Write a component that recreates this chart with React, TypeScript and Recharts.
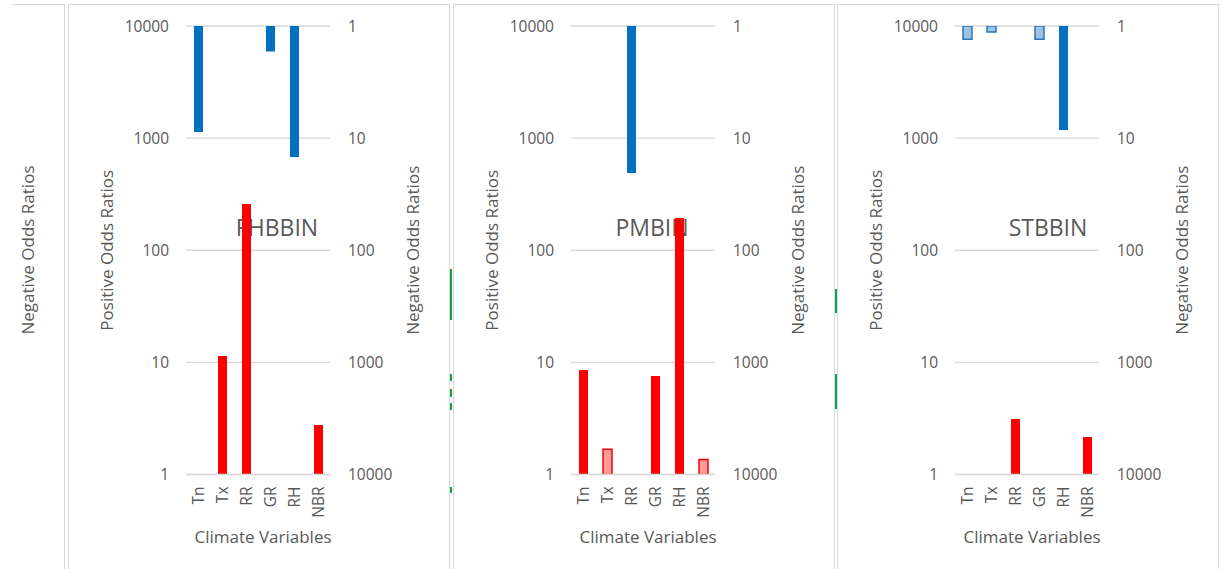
import { Bar, BarChart, CartesianGrid, Cell, Label, XAxis, YAxis } from "recharts"

const categories = ["Tn", "Tx", "RR", "GR", "RH", "NBR"]
const logTicks = [1, 10, 100, 1000, 10000]

// FHBBIN
const fhbPositive = [null, 11.4, 258, null, null, 2.77]
const fhbNegative = [8.8, null, null, 1.69, 14.7, null]
const fhbPosSig = [true, true, true, true, true, true]
const fhbNegSig = [true, true, true, true, true, true]

// PMBIN
const pmPositive = [8.55, 1.68, null, 7.57, 194, 1.36]
const pmNegative = [null, null, 20.5, null, null, null]
const pmPosSig = [true, false, true, true, true, false]
const pmNegSig = [true, true, true, true, true, true]

// STBBIN
const stbPositive = [null, null, 3.12, null, null, 2.16]
const stbNegative = [1.31, 1.13, null, 1.31, 8.47, null]
const stbPosSig = [true, true, true, true, true, true]
const stbNegSig = [false, false, true, false, true, true]

const RED = "#FF0000"
const RED_PALE = "#FF9C9C"
const BLUE = "#0070C0"
const BLUE_PALE = "#9DC3E6"
const TEXT = "#595959"
const GRID = "#D9D9D9"
const GREEN = "#12A14B"
const FONT = "'Open Sans', sans-serif"

function CategoryTick(props: any) {
  const { x, y, payload } = props
  const ty = y + 4
  return (
    <text x={x} y={ty} dy={5.5} transform={`rotate(-90 ${x} ${ty})`} textAnchor="end" fill={TEXT} fontSize={15.5}>
      {payload.value}
    </text>
  )
}

type PanelProps = {
  title: string
  positive: (number | null)[]
  negative: (number | null)[]
  posSig: boolean[]
  negSig: boolean[]
  left: number
  titleX: number
}

function OddsPanel({ title, positive, negative, posSig, negSig, left, titleX }: PanelProps) {
  const data = categories.map((cat, i) => ({ cat, pos: positive[i], neg: negative[i] }))
  return (
    <>
      <div style={{ position: "absolute", left, top: 4, width: 382, height: 600, border: `1px solid ${GRID}`, boxSizing: "border-box" }} />
      <div
        style={{
          position: "absolute", left: titleX - 100, top: 216, width: 200, textAlign: "center",
          fontSize: 23, lineHeight: "23px", color: TEXT,
        }}
      >
        {title}
      </div>
      <div style={{ position: "absolute", left, top: 0 }}>
        <BarChart width={381} height={569} data={data} margin={{ top: 26, right: 0, bottom: 24.5, left: 0 }}>
          <CartesianGrid xAxisId="pos" yAxisId="pos" vertical={false} stroke={GRID} strokeWidth={1.3} />
          <XAxis
            xAxisId="pos"
            dataKey="cat"
            height={70}
            interval={0}
            tickLine={false}
            axisLine={{ stroke: GRID, strokeWidth: 1.5 }}
            tick={<CategoryTick />}
          >
            <Label value="Climate Variables" position="insideBottom" offset={2} dx={5} fill={TEXT} fontSize={17} />
          </XAxis>
          <XAxis xAxisId="neg" dataKey="cat" height={0} hide />
          <YAxis
            yAxisId="pos"
            orientation="left"
            type="number"
            scale="log"
            domain={[1, 10000]}
            ticks={logTicks}
            allowDataOverflow
            width={118}
            axisLine={false}
            tickLine={false}
            tickMargin={11}
            tick={{ fill: TEXT, fontSize: 15.5 }}
          >
            <Label value="Positive Odds Ratios" angle={-90} position="insideLeft" offset={39} fill={TEXT} fontSize={17} style={{ textAnchor: "middle" }} />
          </YAxis>
          <YAxis
            yAxisId="neg"
            orientation="right"
            type="number"
            scale="log"
            domain={[1, 10000]}
            ticks={logTicks}
            reversed
            allowDataOverflow
            width={119}
            axisLine={false}
            tickLine={false}
            tickMargin={12}
            tick={{ fill: TEXT, fontSize: 15.5 }}
          >
            <Label value="Negative Odds Ratios" angle={-90} position="insideRight" offset={36} fill={TEXT} fontSize={17} style={{ textAnchor: "middle" }} />
          </YAxis>
          <Bar xAxisId="pos" yAxisId="pos" dataKey="pos" barSize={9} isAnimationActive={false}>
            {data.map((_, i) => (
              <Cell key={i} fill={posSig[i] ? RED : RED_PALE} stroke={posSig[i] ? "none" : RED} strokeWidth={1.5} />
            ))}
          </Bar>
          <Bar xAxisId="neg" yAxisId="neg" dataKey="neg" barSize={9} isAnimationActive={false}>
            {data.map((_, i) => (
              <Cell key={i} fill={negSig[i] ? BLUE : BLUE_PALE} stroke={negSig[i] ? "none" : "#2E75B6"} strokeWidth={1.5} />
            ))}
          </Bar>
        </BarChart>
      </div>
    </>
  )
}

const greenBits = [
  { x: 450, y: 269, h: 51 },
  { x: 450, y: 374, h: 7 },
  { x: 450, y: 389, h: 8 },
  { x: 450, y: 403, h: 7 },
  { x: 450, y: 487, h: 6 },
  { x: 834.5, y: 289, h: 24 },
  { x: 834.5, y: 374, h: 35 },
]

export default function App() {
  return (
    <div style={{ position: "absolute", left: 0, top: 0, width: 1222, height: 569, overflow: "hidden", background: "#fff", fontFamily: FONT }}>
      <div style={{ position: "absolute", left: 12, top: 4, width: 53, height: 600, borderTop: `1px solid ${GRID}`, borderRight: `1px solid ${GRID}`, boxSizing: "border-box" }} />
      <svg style={{ position: "absolute", left: 0, top: 0 }} width={60} height={569}>
        <text x={28} y={250} dy={6} transform="rotate(-90 28 250)" textAnchor="middle" fill={TEXT} fontSize={17}>
          Negative Odds Ratios
        </text>
      </svg>
      <OddsPanel title="FHBBIN" positive={fhbPositive} negative={fhbNegative} posSig={fhbPosSig} negSig={fhbNegSig} left={68} titleX={277} />
      <OddsPanel title="PMBIN" positive={pmPositive} negative={pmNegative} posSig={pmPosSig} negSig={pmNegSig} left={452.5} titleX={652} />
      <OddsPanel title="STBBIN" positive={stbPositive} negative={stbNegative} posSig={stbPosSig} negSig={stbNegSig} left={837} titleX={1048} />
      {greenBits.map((g, i) => (
        <div key={i} style={{ position: "absolute", left: g.x, top: g.y, width: 2, height: g.h, background: GREEN }} />
      ))}
    </div>
  )
}
